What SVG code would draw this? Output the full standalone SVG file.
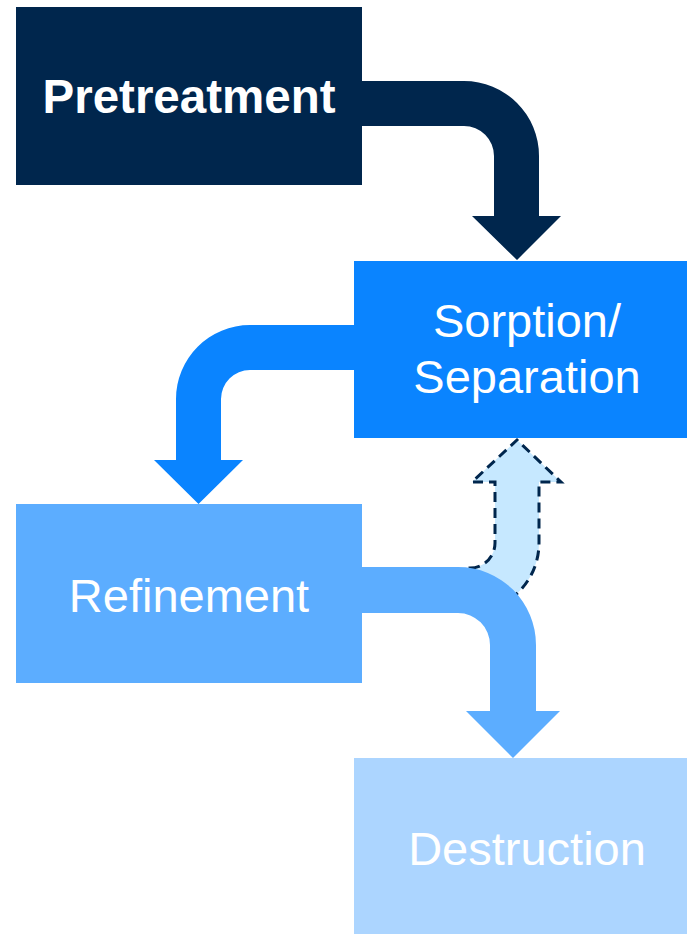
<svg xmlns="http://www.w3.org/2000/svg" width="687" height="934" viewBox="0 0 687 934">
  <style>
    .lbl { font-family: "Liberation Sans", Arial, sans-serif; fill: #FFFFFF; text-anchor: middle; font-size: 47px; }
    .bold { font-weight: bold; font-size: 47.5px; }
    .dash { fill: #C6E8FF; stroke: #00264D; stroke-width: 3; stroke-dasharray: 10 6; stroke-linejoin: miter; }
  </style>
  <rect width="687" height="934" fill="#FFFFFF"/>
  <g id="connectors">
    <path id="c1" fill="#00264D" d="M 355,81 L 464,81 A 75,75 0 0 1 539,156 L 539,216 L 561,216 L 517,260 L 472,216 L 494,216 L 494,156 A 30,30 0 0 0 464,126 L 355,126 Z"/>
    <path id="c2" fill="#0A84FF" d="M 360,325 L 250,325 A 74,74 0 0 0 176,399 L 176,460 L 154,460 L 198.5,504 L 243,460 L 221,460 L 221,399 A 29,29 0 0 1 250,370 L 360,370 Z"/>
    <path id="c4" class="dash" d="M 470,568 A 25,25 0 0 0 495,543 L 495,482 L 472,482 L 517,440 L 561,482 L 539,482 L 539,543 A 69,69 0 0 1 470,612 Z"/>
    <path id="c3" fill="#5CADFF" d="M 355,567 L 458,567 A 78,78 0 0 1 536,645 L 536,711 L 560,711 L 513,758 L 466,711 L 490,711 L 490,645 A 32,32 0 0 0 458,613 L 355,613 Z"/>
  </g>
  <g id="pretreatment">
    <rect x="16" y="7" width="346" height="178" fill="#00264D"/>
    <text class="lbl bold" x="189" y="113">Pretreatment</text>
  </g>
  <g id="sorption">
    <rect x="354" y="261" width="333" height="177" fill="#0A84FF"/>
    <text class="lbl" x="527" y="337">Sorption/</text>
    <text class="lbl" x="527" y="393">Separation</text>
  </g>
  <g id="refinement">
    <rect x="16" y="504" width="346" height="179" fill="#5CADFF"/>
    <text class="lbl" x="189" y="612">Refinement</text>
  </g>
  <g id="destruction">
    <rect x="354" y="758" width="333" height="176" fill="#ACD5FF"/>
    <text class="lbl" x="527" y="865">Destruction</text>
  </g>
</svg>
